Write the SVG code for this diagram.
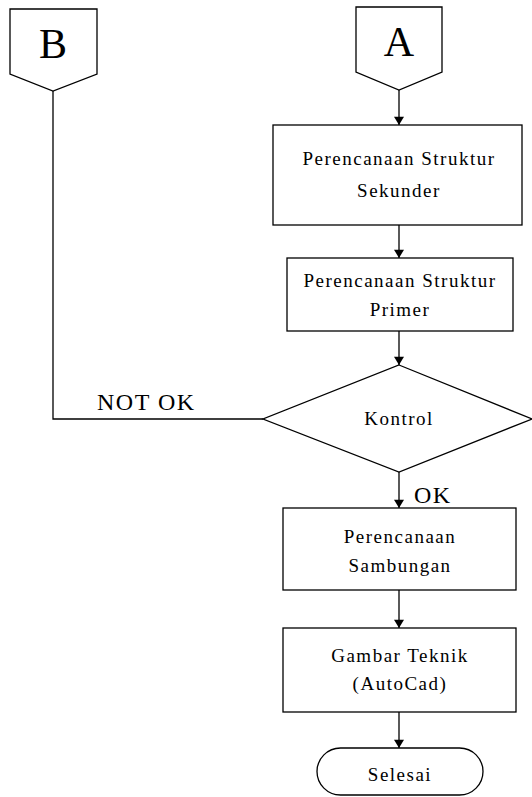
<svg xmlns="http://www.w3.org/2000/svg" width="532" height="797" viewBox="0 0 532 797">
<style>
.s{fill:#fff;stroke:#000;stroke-width:1.3}
.c{fill:none;stroke:#000;stroke-width:1.3}
.t{font-family:"Liberation Serif","Times New Roman",serif;font-size:19px;letter-spacing:1.5px;fill:#000;text-anchor:middle}
.big{font-size:42px;letter-spacing:0}
.lbl{font-family:"Liberation Serif","Times New Roman",serif;font-size:24px;letter-spacing:1.5px;fill:#000}
</style>
<defs>
<marker id="ah" viewBox="0 0 10 12" refX="10" refY="6" markerWidth="12" markerHeight="10" markerUnits="userSpaceOnUse" orient="auto">
<path d="M0,0 L10,6 L0,12 Z" fill="#000"/>
</marker>
</defs>
<rect width="532" height="797" fill="#fff"/>
<g id="connectors">
<path class="c" d="M399,90 V125" marker-end="url(#ah)"/>
<path class="c" d="M399,225 V258" marker-end="url(#ah)"/>
<path class="c" d="M399,331 V365" marker-end="url(#ah)"/>
<path class="c" d="M399,472 V508" marker-end="url(#ah)"/>
<path class="c" d="M399,590 V628" marker-end="url(#ah)"/>
<path class="c" d="M399,712 V748" marker-end="url(#ah)"/>
<path class="c" d="M263,419 H53 V91"/>
<text class="lbl" x="97" y="410">NOT OK</text>
<text class="lbl" x="414" y="503">OK</text>
</g>
<g id="B">
<path class="s" d="M10,9 H97 V74 L53,91 L10,74 Z"/>
<text class="t big" x="53" y="58">B</text>
</g>
<g id="A">
<path class="s" d="M356,7 H442 V72 L399,90 L356,72 Z"/>
<text class="t big" x="399" y="56">A</text>
</g>
<g id="sekunder">
<rect class="s" x="273" y="125" width="249" height="100"/>
<text class="t" x="399" y="165">Perencanaan Struktur</text>
<text class="t" x="399" y="197">Sekunder</text>
</g>
<g id="primer">
<rect class="s" x="287" y="258" width="226" height="73"/>
<text class="t" x="400" y="287">Perencanaan Struktur</text>
<text class="t" x="400" y="316">Primer</text>
</g>
<g id="kontrol">
<path class="s" d="M399,365 L532,419 L399,472 L263,419 Z"/>
<text class="t" x="399" y="425">Kontrol</text>
</g>
<g id="sambungan">
<rect class="s" x="283" y="508" width="233" height="82"/>
<text class="t" x="400" y="543">Perencanaan</text>
<text class="t" x="400" y="572">Sambungan</text>
</g>
<g id="gambar">
<rect class="s" x="283" y="628" width="233" height="84"/>
<text class="t" x="400" y="662">Gambar Teknik</text>
<text class="t" x="400" y="690">(AutoCad)</text>
</g>
<g id="selesai">
<rect class="s" x="317" y="748" width="166" height="47" rx="23.5" ry="23.5"/>
<text class="t" x="400" y="781">Selesai</text>
</g>
</svg>
